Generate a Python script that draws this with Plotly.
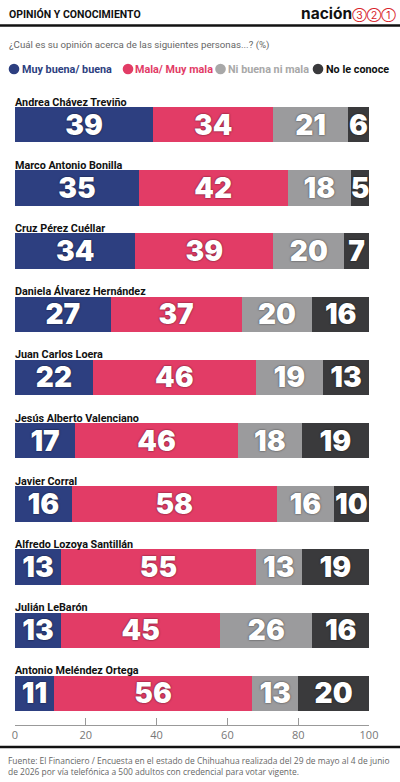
import plotly.graph_objects as go

# candidatos, de arriba hacia abajo
nombres = ["Andrea Chávez Treviño", "Marco Antonio Bonilla", "Cruz Pérez Cuéllar",
           "Daniela Álvarez Hernández", "Juan Carlos Loera", "Jesús Alberto Valenciano",
           "Javier Corral", "Alfredo Lozoya Santillán", "Julián LeBarón",
           "Antonio Meléndez Ortega"]

muy_buena = [39, 35, 34, 27, 22, 17, 16, 13, 13, 11]
mala = [34, 42, 39, 37, 46, 46, 58, 55, 45, 56]
ni_buena = [21, 18, 20, 20, 19, 18, 16, 13, 26, 13]
no_conoce = [6, 5, 7, 16, 13, 19, 10, 19, 16, 20]

series = ["Muy buena/ buena", "Mala/ Muy mala", "Ni buena ni mala", "No le conoce"]
colores = ["#2d3f80", "#e23c66", "#9b9b9d", "#3a3a3c"]
colores_texto_leyenda = ["#2d3f80", "#e23c66", "#a8a8a8", "#111111"]
colores_circulo = ["#2d3f80", "#e23c66", "#a8a8a8", "#3a3a3c"]

tick_vals = [0, 20, 40, 60, 80, 100]

FONT = "Inter, Roboto, sans-serif"
FONT_TXT = "Roboto, sans-serif"
ALTO_AREA = 782 - 93 - 57
ANCHO_AREA = 400 - 15 - 31


def px_x(p):
    # píxel horizontal de la página -> fracción del área del gráfico
    return (p - 15) / ANCHO_AREA


def px_y(p):
    return (782 - 57 - p) / ALTO_AREA


fig = go.Figure()
for serie, valores, color in zip(series, [muy_buena, mala, ni_buena, no_conoce], colores):
    fig.add_trace(go.Bar(
        y=nombres, x=valores, name=serie, orientation="h",
        marker=dict(color=color, line=dict(width=0)),
        text=valores, textposition="inside", insidetextanchor="middle",
        textangle=0, constraintext="none",
        textfont=dict(family=FONT, size=28, color="white", weight=900,
                      shadow="0px 0px 2px rgba(0,0,0,0.7)"),
        showlegend=False, hoverinfo="skip",
    ))

# nombres encima de cada barra
for n in nombres:
    fig.add_annotation(x=0, y=n, xref="x", yref="y", text="<b>" + n + "</b>",
                       showarrow=False, xanchor="left", yanchor="bottom",
                       yshift=14, xshift=-2,
                       font=dict(family=FONT_TXT, size=10.8, color="#111"))

# leyenda manual con círculos
shapes = []
circulo_x = [14, 128, 220.5, 318]
texto_x = [20, 133, 226, 324]
for serie, ct, cc, cx, tx in zip(series, colores_texto_leyenda, colores_circulo, circulo_x, texto_x):
    shapes.append(dict(type="circle", xref="paper", yref="paper",
                       xsizemode="pixel", ysizemode="pixel",
                       xanchor=px_x(cx), yanchor=px_y(69),
                       x0=-5.3, x1=5.3, y0=-5.3, y1=5.3,
                       fillcolor=cc, line=dict(width=0)))
    fig.add_annotation(
        xref="paper", yref="paper", x=px_x(tx), y=px_y(69),
        text="<b>" + serie + "</b>",
        showarrow=False, xanchor="left", yanchor="middle",
        font=dict(family=FONT_TXT, size=10.8, color=ct))

# encabezado
fig.add_annotation(xref="paper", yref="paper", x=px_x(7), y=px_y(14),
                   text="<b>OPINIÓN Y CONOCIMIENTO</b>", showarrow=False,
                   xanchor="left", yanchor="middle",
                   font=dict(family=FONT_TXT, size=10.5, color="#111"))
fig.add_annotation(xref="paper", yref="paper", x=px_x(398), y=px_y(13),
                   text="<b>nación</b><span style='color:#d8232a;font-size:10.5px'>③②①</span>",
                   showarrow=False, xanchor="right", yanchor="middle",
                   font=dict(family=FONT, size=15.5, color="#111"))
fig.add_annotation(xref="paper", yref="paper", x=px_x(7), y=px_y(45),
                   text="¿Cuál es su opinión acerca de las siguientes personas...? (%)",
                   showarrow=False, xanchor="left", yanchor="middle",
                   font=dict(family=FONT_TXT, size=9.7, color="#666"))

# pie
fig.add_annotation(xref="paper", yref="paper", x=px_x(6), y=px_y(753),
                   text="Fuente: El Financiero / Encuesta en el estado de Chihuahua realizada del 29 de mayo al 4 de junio<br>"
                        "de 2026 por vía telefónica a 500 adultos con credencial para votar vigente.",
                   showarrow=False, xanchor="left", yanchor="top", align="left",
                   font=dict(family="Open Sans, sans-serif", size=8.45, color="#666"))

# líneas negras de encabezado y pie
for yl in [25.5, 747]:
    shapes.append(dict(type="line", xref="paper", yref="paper", x0=-0.05, x1=1.1,
                       y0=px_y(yl), y1=px_y(yl), line=dict(color="#111", width=2.5)))

fig.update_layout(
    width=400, height=782,
    margin=dict(l=15, r=31, t=93, b=57),
    barmode="stack", bargap=0.44,
    paper_bgcolor="white", plot_bgcolor="white",
    font=dict(family=FONT),
    uniformtext=dict(minsize=28, mode="show"),
    xaxis=dict(range=[0, 100], tickvals=tick_vals, ticks="inside", ticklen=7,
               tickcolor="#999", showline=True, linecolor="#999", linewidth=1,
               showgrid=False, zeroline=False, fixedrange=True,
               tickfont=dict(family="Open Sans, sans-serif", size=11, color="#777")),
    yaxis=dict(autorange="reversed", showticklabels=False, showgrid=False,
               zeroline=False, fixedrange=True),
    shapes=shapes,
)

fig.write_html("out.html", config={"displayModeBar": False},
               post_script="document.body.style.margin='0';")
